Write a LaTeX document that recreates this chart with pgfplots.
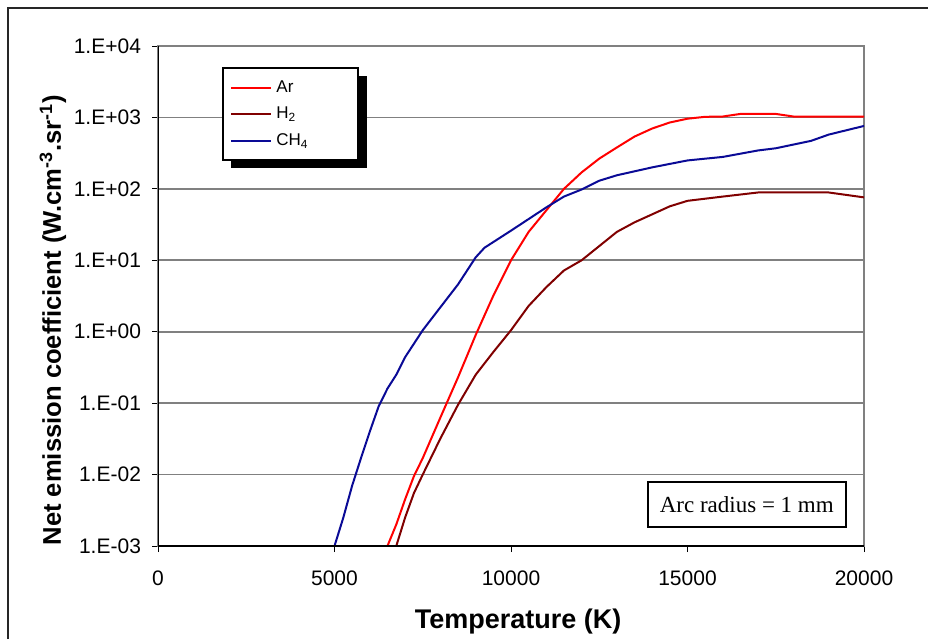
\documentclass[border=0pt]{standalone}
\usepackage{fontspec}
\setmainfont{Liberation Sans}
\newfontfamily\timesfont{Liberation Serif}
\usepackage{pgfplots}
\pgfplotsset{compat=1.18}
\definecolor{arred}{RGB}{255,0,0}
\definecolor{htwo}{RGB}{128,0,0}
\definecolor{chfour}{RGB}{10,10,150}
\begin{document}
\begin{tikzpicture}
\useasboundingbox (0,0) rectangle (464pt,319.5pt);
\draw[line width=1pt, black!85] (4pt,0) -- (4pt,315.5pt) -- (464pt,315.5pt);
\begin{axis}[
  at={(79pt,46.5pt)}, anchor=south west,
  scale only axis, width=353pt, height=250pt,
  ymode=log, xmin=0, xmax=20000, ymin=1e-3, ymax=1e4,
  xtick={0,5000,10000,15000,20000},
  xticklabels={0,5000,10000,15000,20000},
  scaled x ticks=false,
  ytick={1e-3,1e-2,1e-1,1,10,100,1000,10000},
  yticklabels={1.E-03,1.E-02,1.E-01,1.E+00,1.E+01,1.E+02,1.E+03,1.E+04},
  yminorticks=false,
  tick pos=left, tick align=outside, major tick length=3pt,
  tick style={black, line width=0.5pt},
  ymajorgrids, grid style={gray, line width=0.8pt},
  axis line style={gray, line width=1pt},
  ticklabel style={font=\fontsize{10.5}{12}\selectfont},
  xticklabel style={yshift=-6pt},
  yticklabel style={xshift=-2pt},
  xlabel={Temperature (K)},
  xlabel style={font=\bfseries\fontsize{13.5}{15}\selectfont, at={(axis description cs:0.51,-0.152)}, anchor=center},
  ylabel={Net emission coefficient (W.cm\textsuperscript{-3}.sr\textsuperscript{-1})},
  ylabel style={font=\bfseries\fontsize{12.8}{14}\selectfont, at={(axis description cs:-0.149,0.452)}, anchor=center},
  legend style={at={(rel axis cs:0.102,0.940)}, anchor=north west,
    draw=none, fill=none, inner sep=0pt,
    font=\fontsize{8.5}{10}\selectfont, row sep=2pt},
  legend cell align=left,
  legend image code/.code={\draw[#1, line width=1pt] (0pt,0pt) -- (20pt,0pt);},
  every axis plot/.append style={line width=1pt, no markers},
]
\addplot[arred] coordinates {
  (6500,1e-3) (6750,2e-3) (7000,4.5e-3) (7250,9.5e-3) (7500,0.017)
  (8000,0.063) (8500,0.23) (9000,0.9) (9500,3.2) (10000,10)
  (10500,25) (11000,50) (11500,100) (12000,170) (12500,265)
  (13000,380) (13500,540) (14000,700) (14500,850) (15000,960)
  (15500,1020) (16000,1030) (16500,1120) (17500,1120) (18000,1030)
  (20000,1030)
};
\addlegendentry{Ar}
\addplot[htwo] coordinates {
  (6750,1e-3) (7000,2.5e-3) (7250,5.5e-3) (7500,0.01) (8000,0.032)
  (8500,0.095) (9000,0.25) (9500,0.52) (10000,1.05) (10500,2.3)
  (11000,4.2) (11500,7.2) (12000,10) (13000,25) (13500,34)
  (14500,57) (15000,68) (16000,78) (17000,89) (19000,89)
  (20000,76)
};
\addlegendentry{H\textsubscript{2}}
\addplot[chfour] coordinates {
  (5000,1e-3) (5250,2.5e-3) (5500,7e-3) (5750,0.017) (6000,0.04)
  (6250,0.09) (6500,0.16) (6750,0.25) (7000,0.44) (7500,1.05)
  (8000,2.2) (8500,4.6) (9000,11) (9250,15) (10000,26)
  (11000,55) (11500,78) (12000,98) (12500,130) (13000,155)
  (14000,200) (15000,250) (16000,280) (17000,345) (17500,370)
  (18500,470) (19000,575) (20000,760)
};
\addlegendentry{CH\textsubscript{4}}
\draw[black, line width=0.6pt] (rel axis cs:0,1) -- (rel axis cs:0,0) -- (rel axis cs:1,0);
% legend frame with its drop shadow
\fill[black] (rel axis cs:0.1034,0.756) rectangle (rel axis cs:0.2960,0.940);
\draw[black, line width=0.8pt, fill=white] (rel axis cs:0.0921,0.772) rectangle (rel axis cs:0.2833,0.956);
\node[draw=black, line width=0.8pt, fill=white, minimum width=99pt, minimum height=22.5pt,
  font=\timesfont\fontsize{11.5}{13}\selectfont] at (rel axis cs:0.834,0.083) {Arc radius = 1 mm};
\end{axis}
\end{tikzpicture}
\end{document}
